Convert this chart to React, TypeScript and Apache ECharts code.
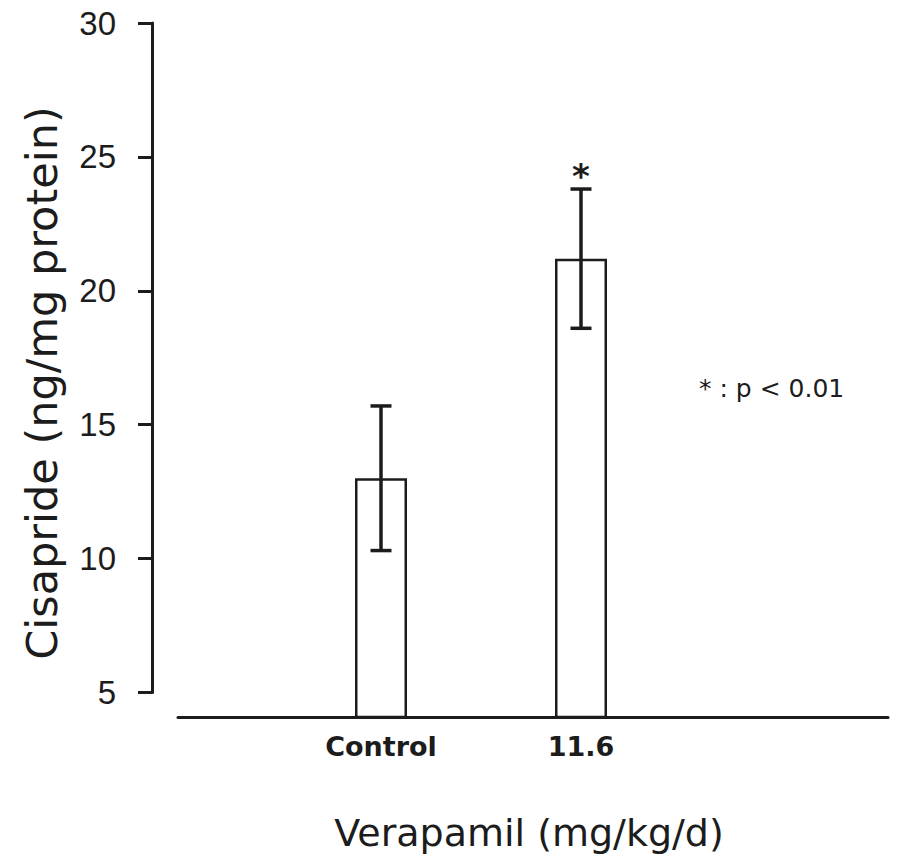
import React, { useEffect, useRef } from "react";
import * as echarts from "echarts";

// Cisapride content by verapamil dose
const categories = ["Control", "11.6"];
const means = [13.0, 21.2];
const errors = [2.7, 2.6];
const significant = [false, true];
const yTicks = [5, 10, 15, 20, 25, 30];

const yTitle = "Cisapride (ng/mg protein)";
const xTitle = "Verapamil (mg/kg/d)";
const note = "* : p < 0.01";

const INK = "#1c1c1c";

export default function App() {
  const ref = useRef<HTMLDivElement>(null);

  useEffect(() => {
    if (!ref.current) return;
    document.body.style.margin = "0";
    const chart = echarts.init(ref.current, null, { renderer: "svg" });

    const yMin = yTicks[0];
    const yMax = yTicks[yTicks.length - 1];
    // the bar baseline sits a little below the lowest tick
    const barFloor = 4.085;

    const errData = categories.map((_, i) => [
      i,
      means[i] - errors[i],
      means[i] + errors[i],
      significant[i] ? 1 : 0,
    ]);

    chart.setOption({
      animation: false,
      backgroundColor: "#ffffff",
      grid: [
        // visible value axis
        { left: 152, top: 23, height: 669.5, right: 15 },
        // bars
        { left: 281, width: 400, top: 23, bottom: 148 },
        // baseline
        { left: 178, right: 15, top: 23, bottom: 148 },
      ],
      xAxis: [
        { gridIndex: 0, type: "value", show: false },
        {
          gridIndex: 1,
          type: "category",
          data: categories,
          axisLine: { show: false },
          axisTick: { show: false },
          axisLabel: {
            margin: 16,
            color: INK,
            fontFamily: "DejaVu Sans",
            fontSize: 27,
            fontWeight: "bold",
          },
        },
        {
          gridIndex: 2,
          type: "value",
          axisLine: { show: true, lineStyle: { color: INK, width: 3 } },
          axisTick: { show: false },
          axisLabel: { show: false },
          splitLine: { show: false },
        },
      ],
      yAxis: [
        {
          gridIndex: 0,
          type: "value",
          min: yMin,
          max: yMax,
          interval: 5,
          axisLine: { show: true, lineStyle: { color: INK, width: 3 } },
          axisTick: {
            show: true,
            inside: false,
            length: 14,
            lineStyle: { color: INK, width: 3 },
          },
          axisLabel: {
            margin: 36,
            color: INK,
            fontFamily: "Liberation Sans",
            fontSize: 33,
            fontWeight: 500,
          },
          splitLine: { show: false },
        },
        {
          gridIndex: 1,
          type: "value",
          min: barFloor,
          max: yMax,
          show: false,
          splitLine: { show: false },
        },
        { gridIndex: 2, type: "value", show: false, splitLine: { show: false } },
      ],
      series: [
        {
          type: "bar",
          xAxisIndex: 1,
          yAxisIndex: 1,
          data: means,
          barWidth: 52,
          itemStyle: { color: "#ffffff", borderColor: INK, borderWidth: 2.5 },
        },
        {
          type: "custom",
          xAxisIndex: 1,
          yAxisIndex: 1,
          data: errData,
          renderItem: (params: any, api: any) => {
            const x = api.value(0);
            const lo = api.coord([x, api.value(1)]);
            const hi = api.coord([x, api.value(2)]);
            const half = 10.5;
            const style = { stroke: INK, lineWidth: 3.5 };
            const children: any[] = [
              { type: "line", shape: { x1: lo[0], y1: lo[1], x2: hi[0], y2: hi[1] }, style },
              { type: "line", shape: { x1: hi[0] - half, y1: hi[1], x2: hi[0] + half, y2: hi[1] }, style },
              { type: "line", shape: { x1: lo[0] - half, y1: lo[1], x2: lo[0] + half, y2: lo[1] }, style },
            ];
            if (api.value(3)) {
              children.push({
                type: "text",
                x: hi[0],
                y: hi[1] - 13,
                style: {
                  text: "*",
                  fill: INK,
                  font: "bold 34px 'DejaVu Sans'",
                  align: "center",
                  verticalAlign: "middle",
                },
              });
            }
            return { type: "group", children };
          },
          z: 5,
        },
      ],
      graphic: [
        {
          type: "text",
          x: 42,
          y: 383,
          rotation: Math.PI / 2,
          style: {
            text: yTitle,
            fill: INK,
            font: "43px 'DejaVu Sans'",
            align: "center",
            verticalAlign: "middle",
          },
        },
        {
          type: "text",
          x: 529,
          y: 833,
          style: {
            text: xTitle,
            fill: INK,
            font: "38px 'DejaVu Sans'",
            align: "center",
            verticalAlign: "middle",
          },
        },
        {
          type: "text",
          x: 699,
          y: 388,
          style: {
            text: note,
            fill: INK,
            font: "25px 'DejaVu Sans'",
            align: "left",
            verticalAlign: "middle",
          },
        },
      ],
    });

    return () => chart.dispose();
  }, []);

  return <div ref={ref} style={{ width: 903, height: 865 }} />;
}
